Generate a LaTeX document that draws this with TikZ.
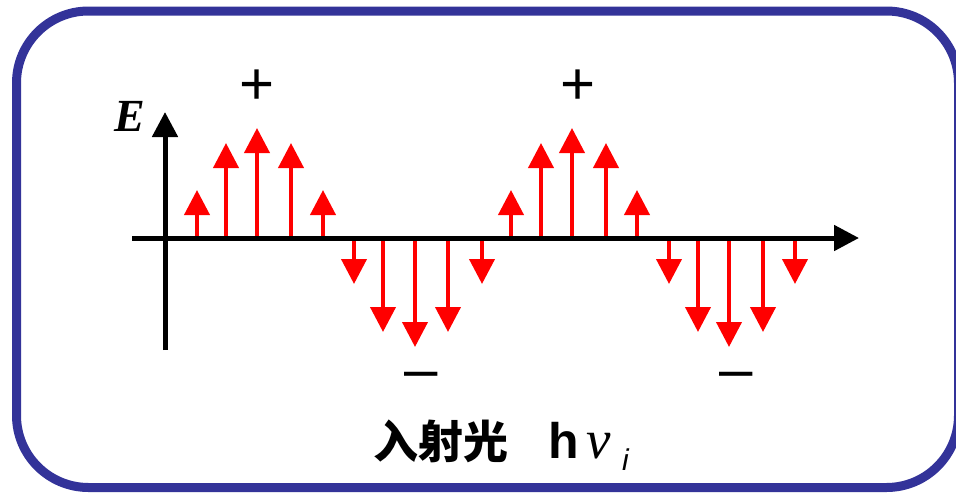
\documentclass[tikz,border=0pt]{standalone}
\usepackage{fontspec}
\setmainfont{Liberation Serif}
\setsansfont{Liberation Sans}
\newfontfamily\cjk{Noto Sans CJK SC}
\usetikzlibrary{arrows.meta}
\definecolor{frameblue}{HTML}{333399}
\definecolor{vred}{HTML}{FF0000}
\tikzset{
  vec/.style={draw=vred, line width=4pt, -{Triangle[width=25pt,length=25pt]}},
  axis/.style={draw=black, line width=5pt, -{Triangle[width=25pt,length=25pt]}},
  sign/.style={inner sep=0pt, font=\sffamily\fontsize{60}{60}\selectfont},
}
\begin{document}
\begin{tikzpicture}[x=1pt,y=-1pt]
\useasboundingbox (0,0) rectangle (956,493);
\draw[frameblue, line width=9pt, rounded corners=72pt] (16.5,11) rectangle (958.5,487.5);
% red field vectors
\foreach \x/\t in {197/190,226/143,257/128,291/143,323/190,
                   511/190,541/143,572/128,606/143,637/190}
  \draw[vec] (\x,238) -- (\x,\t);
\foreach \x/\t in {354/284,383/332,415/347,448/332,482/284,
                   669/284,698/332,729/347,763/332,795/284}
  \draw[vec] (\x,238) -- (\x,\t);
% axes
\coordinate (ybot) at (165,350);
\coordinate (ytop) at (165,112);
\coordinate (xl) at (132,238);
\coordinate (xr) at (859,238);
\draw[axis] (ybot) -- (ytop);
\draw[axis] (xl) -- (xr);
\node[inner sep=0pt, font=\fontsize{46}{46}\selectfont\bfseries\itshape] (E) at (130,116) {E};
\node[sign] (p1) at (257,87) {+};
\node[sign] (p2) at (578,87) {+};
\node[sign] (m1) at (421,381) {–};
\node[sign] (m2) at (736,381) {–};
% label
\node[inner sep=0pt, anchor=base west, font=\cjk\bfseries\fontsize{45}{45}\selectfont] (lab) at (373,458) {入射光};
\node[inner sep=0pt, anchor=base west, font=\sffamily\bfseries\fontsize{50}{50}\selectfont] (h) at (548,458) {h};
\node[inner sep=0pt, anchor=base west, font=\itshape\fontsize{55}{55}\selectfont] (nu) at (586,458) {ν};
\node[inner sep=0pt, anchor=base west, font=\sffamily\itshape\fontsize{30}{30}\selectfont] (i) at (622,470) {i};
\end{tikzpicture}
\end{document}
